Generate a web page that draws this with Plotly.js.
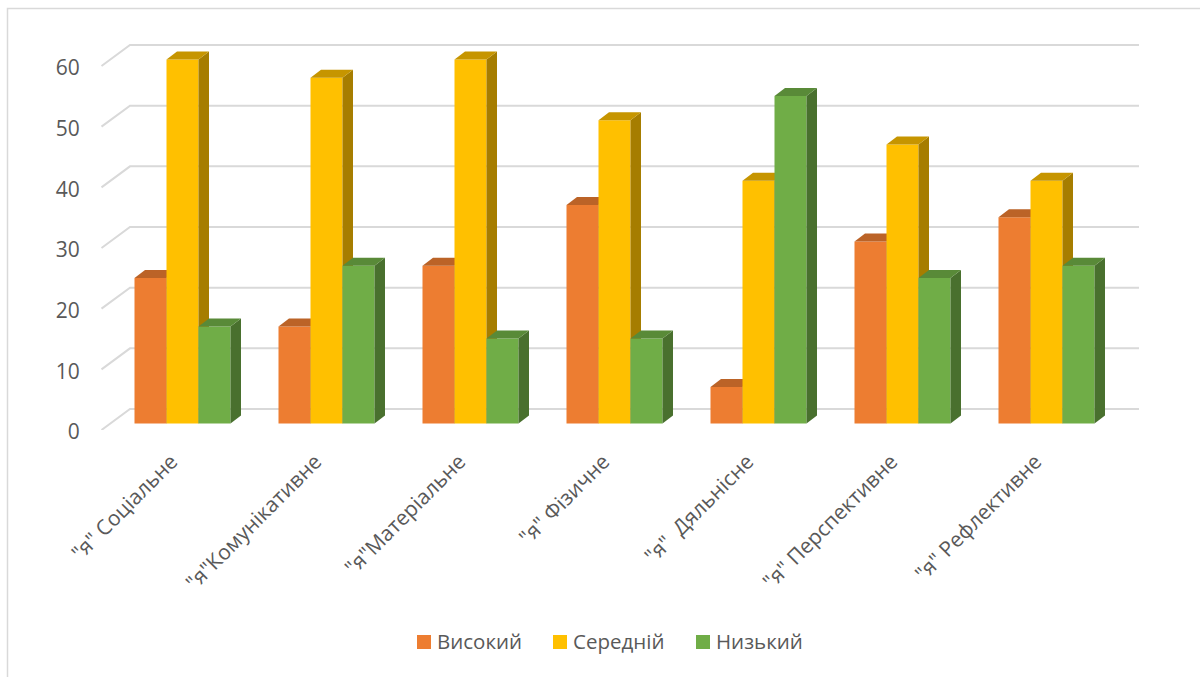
<!DOCTYPE html>
<html>
<head>
<meta charset="utf-8">
<script src="https://cdn.plot.ly/plotly-3.0.1.min.js"></script>
<style>html,body{margin:0;padding:0;background:#fff}#chart{width:1200px;height:677px}</style>
</head>
<body>
<div id="chart"></div>
<script>
// Self-concept levels by component
const categories = ['"я" Соціальне', '"я"Комунікативне', '"я"Матеріальне', '"я" Фізичне', '"я"  Дяльнісне', '"я" Перспективне', '"я" Рефлективне'];
const seriesNames = ['Високий', 'Середній', 'Низький'];
const highValues = [24, 16, 26, 36, 6, 30, 34];
const midValues = [60, 57, 60, 50, 40, 46, 40];
const lowValues = [16, 26, 14, 14, 54, 24, 26];
const yTicks = [0, 10, 20, 30, 40, 50, 60];

const frontColors = ['#ED7D31', '#FFC000', '#70AD47'];
const topColors = ['#BB6327', '#C69500', '#598A38'];
const sideColors = ['#9A5120', '#A67D00', '#49702E'];

// Plot frame in pixels and the scale of one unit on each axis
const W = 1200, H = 677;
const L = 95, R = 1145, T = 20, B = 430;
const pxPerValue = 6.0667, pxPerCategory = 144, firstCategoryPx = 182.5;
const xRange = [(L - firstCategoryPx) / pxPerCategory, (R - firstCategoryPx) / pxPerCategory];
const yRange = [0, (B - T) / pxPerValue];

// Oblique projection offsets, expressed in axis units
const wallStartX = (101.5 - firstCategoryPx) / pxPerCategory;
const wallEndX = (1139 - firstCategoryPx) / pxPerCategory;
const wallDx = 28.5 / pxPerCategory, wallDy = 21 / pxPerValue;
const barLift = 6.5 / pxPerValue;
const depthDx = 10.5 / pxPerCategory, depthDy = 8 / pxPerValue;
const barWidth = 32 / pxPerCategory;

const traces = [];

// Back wall gridlines with their slanted floor-side segments
const gridX = [], gridY = [];
yTicks.forEach(v => {
  gridX.push(wallStartX, wallStartX + wallDx, wallEndX, null);
  gridY.push(v, v + wallDy, v + wallDy, null);
});
traces.push({
  type: 'scatter', mode: 'lines', x: gridX, y: gridY, xaxis: 'x', yaxis: 'y',
  line: {color: '#D9D9D9', width: 2}, showlegend: false, hoverinfo: 'skip'
});

// Each series sits on its own overlaid subplot so later series paint over earlier ones
[highValues, midValues, lowValues].forEach((values, s) => {
  const xa = 'x' + (s + 2), ya = 'y' + (s + 2);
  const offset = (s - 1.5) * barWidth;

  traces.push({
    type: 'bar', name: seriesNames[s], x: categories.map((_, i) => i), y: values,
    base: barLift, offset: offset, width: barWidth, xaxis: xa, yaxis: ya,
    marker: {color: frontColors[s], line: {width: 0}}, showlegend: false
  });

  const sideX = [], sideY = [], topX = [], topY = [];
  values.forEach((v, i) => {
    const x0 = i + offset, x1 = x0 + barWidth, y0 = barLift, y1 = barLift + v;
    sideX.push(x1, x1 + depthDx, x1 + depthDx, x1, x1, null);
    sideY.push(y0, y0 + depthDy, y1 + depthDy, y1, y0, null);
    topX.push(x0, x0 + depthDx, x1 + depthDx, x1, x0, null);
    topY.push(y1, y1 + depthDy, y1 + depthDy, y1, y1, null);
  });
  [[sideX, sideY, sideColors[s]], [topX, topY, topColors[s]]].forEach(([px, py, color]) => {
    traces.push({
      type: 'scatter', mode: 'none', x: px, y: py, xaxis: xa, yaxis: ya,
      fill: 'toself', fillcolor: color, showlegend: false, hoverinfo: 'skip'
    });
  });
});

const textColor = '#595959';
const fontFamily = '"Open Sans", "Noto Sans", sans-serif';
const paperX = px => (px - L) / (R - L);
const paperY = py => (B - py) / (B - T);

// Legend row: a square swatch followed by its series name
const legendSwatchLeft = [417, 553, 696];
const legendTop = 635, legendSwatch = 14, legendTextGap = 6;

const layout = {
  width: W, height: H, autosize: false,
  margin: {l: L, r: W - R, t: T, b: H - B, pad: 0},
  paper_bgcolor: '#FFFFFF', plot_bgcolor: 'rgba(0,0,0,0)',
  font: {family: fontFamily, color: textColor},
  showlegend: false,
  xaxis: {
    range: xRange, tickmode: 'array', tickvals: categories.map((_, i) => i), ticktext: categories,
    tickangle: -45, tickfont: {size: 21, color: textColor, family: fontFamily}, ticklabelshift: -11,
    showgrid: false, zeroline: false, showline: false, ticks: 'outside', ticklen: 10, tickcolor: 'rgba(0,0,0,0)'
  },
  yaxis: {
    range: yRange, tickmode: 'array', tickvals: yTicks, tickfont: {size: 21, color: textColor, family: fontFamily}, ticklabelshift: 2,
    showgrid: false, zeroline: false, showline: false, ticks: 'outside', ticklen: 10, tickcolor: 'rgba(0,0,0,0)'
  },
  shapes: [{
    type: 'path', xref: 'paper', yref: 'paper', layer: 'below',
    path: `M ${paperX(7.5)},${paperY(677)} L ${paperX(7.5)},${paperY(8.5)} L ${paperX(1200)},${paperY(8.5)}`,
    line: {color: '#D9D9D9', width: 1.5}
  }].concat(seriesNames.map((_, s) => ({
    type: 'rect', xref: 'paper', yref: 'paper',
    x0: paperX(legendSwatchLeft[s]), x1: paperX(legendSwatchLeft[s] + legendSwatch),
    y0: paperY(legendTop + legendSwatch), y1: paperY(legendTop),
    fillcolor: frontColors[s], line: {width: 0}
  }))),
  annotations: seriesNames.map((name, s) => ({
    text: name, showarrow: false, xref: 'paper', yref: 'paper', xanchor: 'left', yanchor: 'middle',
    x: paperX(legendSwatchLeft[s] + legendSwatch + legendTextGap), y: paperY(legendTop + legendSwatch / 2),
    xshift: -1, yshift: 1, borderpad: 0, font: {size: 20.5, color: textColor, family: fontFamily}
  }))
};
[2, 3, 4].forEach(n => {
  layout['xaxis' + n] = {range: xRange, overlaying: 'x', visible: false};
  layout['yaxis' + n] = {range: yRange, overlaying: 'y', visible: false};
});

Plotly.newPlot('chart', traces, layout, {displayModeBar: false, staticPlot: true});
</script>
</body>
</html>
